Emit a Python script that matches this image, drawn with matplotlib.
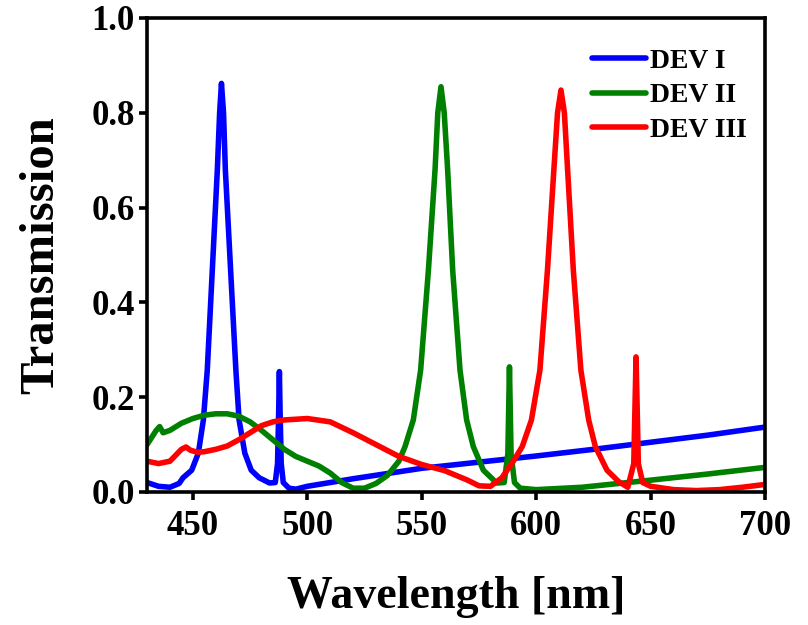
import numpy as np
import matplotlib
matplotlib.use('Agg')
from matplotlib import pyplot as plt

# DEV I (blue) - wavelength / transmission
wl_1 = [430, 435, 440, 444, 445.7, 449.5, 452.4, 454.6, 456.3, 458.5, 460.7, 461.7, 462.5, 463.4,
        464.2, 466.5, 468.8, 470.2, 472.7, 475.5, 479, 483.5, 486, 487.0, 487.5, 487.8, 488.1,
        488.6, 489.5, 492, 495, 500, 520, 550, 575, 600, 625, 650, 675, 700]
tr_1 = [0.02, 0.012, 0.01, 0.018, 0.03, 0.046, 0.082, 0.152, 0.257, 0.468, 0.68, 0.80, 0.862, 0.80,
        0.68, 0.468, 0.257, 0.152, 0.082, 0.046, 0.03, 0.019, 0.02, 0.06, 0.17, 0.254, 0.17,
        0.06, 0.02, 0.008, 0.006, 0.012, 0.028, 0.05, 0.063, 0.076, 0.09, 0.105, 0.12, 0.137]

# DEV II (green)
wl_2 = [430, 432, 434, 435.5, 437, 440, 445, 450, 455, 460, 465, 470, 475, 480, 485, 490,
        495, 500, 505, 510, 515, 520, 525, 530, 535, 540, 542.7, 546.3, 549.5, 552.9, 555.8,
        557, 558.4, 559.8, 561.3, 563.5, 566.7, 569.6, 572.5, 576.9, 582.7, 586, 587.6, 588.3,
        589, 590.5, 593, 600, 620, 650, 675, 700]
tr_2 = [0.10, 0.115, 0.13, 0.138, 0.125, 0.13, 0.145, 0.155, 0.162, 0.165, 0.165, 0.16, 0.148, 0.13,
        0.11, 0.09, 0.075, 0.065, 0.055, 0.04, 0.02, 0.008, 0.008, 0.018, 0.035, 0.065, 0.096,
        0.152, 0.257, 0.468, 0.68, 0.80, 0.855, 0.80, 0.68, 0.468, 0.257, 0.152, 0.096, 0.046,
        0.019, 0.02, 0.08, 0.264, 0.08, 0.02, 0.008, 0.005, 0.01, 0.025, 0.038, 0.052]

# DEV III (red)
wl_3 = [430, 435, 440, 443, 445, 447, 449, 452, 455, 460, 465, 470, 475, 480, 485, 490,
        500, 510, 520, 530, 540, 550, 560, 570, 575, 580, 585, 590, 593.9, 597.9, 601.6,
        604.9, 607.7, 609.3, 610.8, 612.3, 613.7, 616.2, 619.5, 622.9, 625.8, 630.9, 636,
        640, 642.6, 643.6, 644.6, 646.5, 650, 660, 670, 680, 690, 700]
tr_3 = [0.065, 0.06, 0.065, 0.08, 0.09, 0.095, 0.088, 0.084, 0.085, 0.09, 0.097, 0.11, 0.125, 0.14,
        0.148, 0.152, 0.155, 0.148, 0.125, 0.10, 0.075, 0.058, 0.045, 0.025, 0.013, 0.012,
        0.03, 0.065, 0.096, 0.152, 0.257, 0.468, 0.68, 0.80, 0.848, 0.80, 0.68, 0.468, 0.257,
        0.152, 0.096, 0.046, 0.022, 0.01, 0.06, 0.285, 0.06, 0.02, 0.012, 0.005, 0.003, 0.005,
        0.01, 0.016]

labels = ['DEV I', 'DEV II', 'DEV III']
colors = ['#0000ff', '#008000', '#ff0000']

plt.rcParams['font.family'] = ['Liberation Serif', 'DejaVu Serif']
plt.rcParams['font.weight'] = 'bold'

fig = plt.figure(figsize=(8.08, 6.25), dpi=100)
ax = fig.add_axes([0.182, 0.2128, 0.765, 0.7584])

for wl, tr, lab, c in zip([wl_1, wl_2, wl_3], [tr_1, tr_2, tr_3], labels, colors):
    ax.plot(wl, tr, color=c, lw=4.0, label=lab, solid_capstyle='round', solid_joinstyle='round')

ax.set_xlim(430, 700)
ax.set_ylim(0, 1.0)
ax.set_xticks([450, 500, 550, 600, 650, 700])
ax.set_yticks(np.arange(0, 1.01, 0.2))
ax.yaxis.set_major_formatter(matplotlib.ticker.FormatStrFormatter('%.1f'))

for s in ax.spines.values():
    s.set_linewidth(2.6)
ax.tick_params(axis='both', direction='out', width=2.6, length=6, labelsize=25)
ax.tick_params(axis='x', pad=7)
ax.tick_params(axis='y', pad=3)
for t in ax.get_xticklabels() + ax.get_yticklabels():
    t.set_fontweight('bold')

ax.set_xlabel('Wavelength [nm]', fontsize=33, fontweight='bold', labelpad=24)
ax.set_ylabel('Transmission', fontsize=35, fontweight='bold', labelpad=20)

ax.legend(loc='upper left', bbox_to_anchor=(0.72, 0.936), frameon=False,
          handlelength=1.95, handletextpad=0.15, labelspacing=0.33,
          borderpad=0, borderaxespad=0,
          prop={'weight': 'bold', 'size': 20})

fig.savefig('out.png', dpi=100)
